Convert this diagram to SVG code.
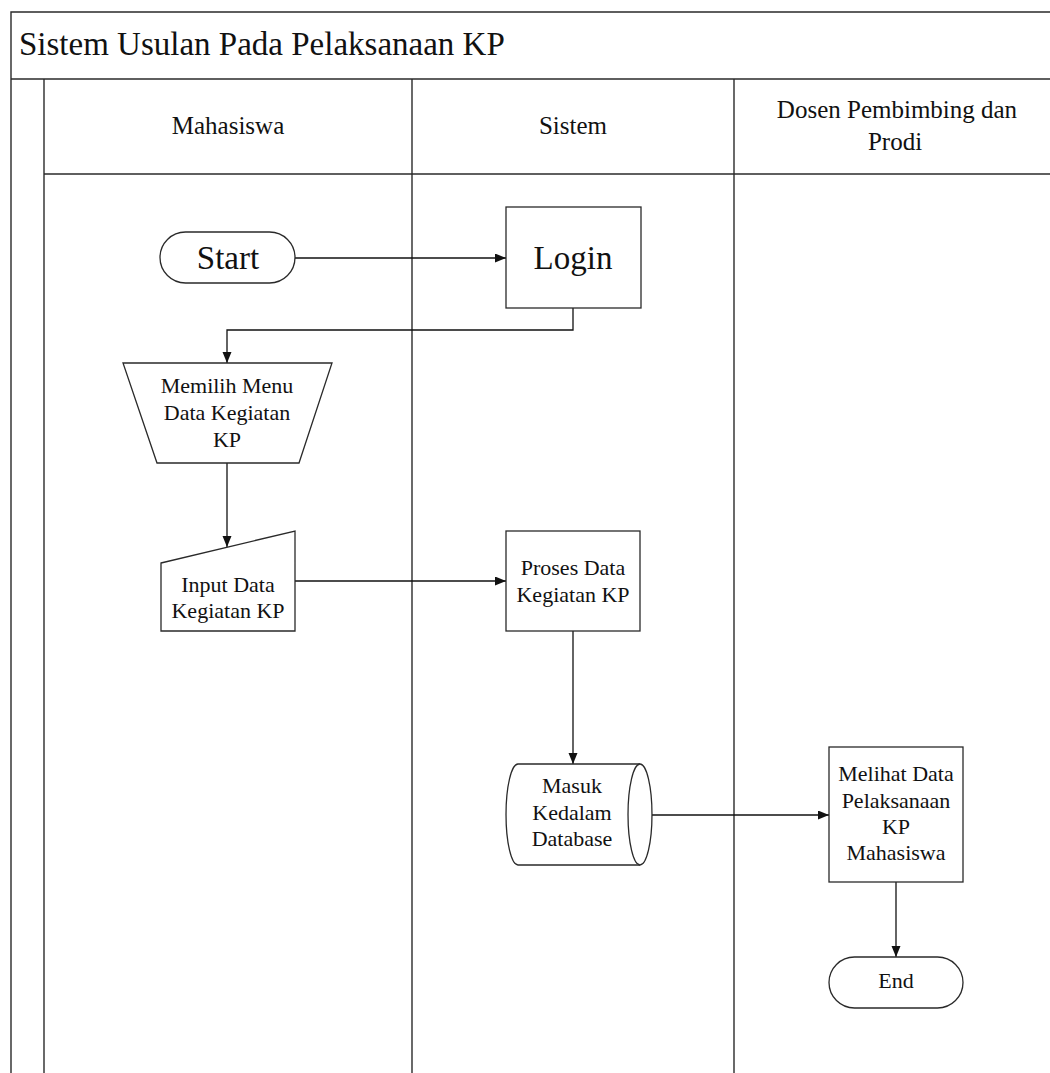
<svg xmlns="http://www.w3.org/2000/svg" width="1050" height="1073" viewBox="0 0 1050 1073">
  <style>
    .frame { fill: none; stroke: #2a2a2a; stroke-width: 1.4; }
    .shape { fill: #ffffff; stroke: #2a2a2a; stroke-width: 1.3; }
    .edge { fill: none; stroke: #111111; stroke-width: 1.3; }
    text { font-family: "Liberation Serif", "Times New Roman", serif; fill: #111111; text-anchor: middle; }
    .title { font-size: 33px; text-anchor: start; }
    .lane { font-size: 25px; }
    .big { font-size: 33px; }
    .lbl { font-size: 22px; }
  </style>
  <defs>
    <marker id="arrow" markerUnits="userSpaceOnUse" markerWidth="12" markerHeight="10" refX="11" refY="4.5" orient="auto">
      <path d="M0,0 L11,4.5 L0,9 Z" fill="#111111"/>
    </marker>
  </defs>

  <rect width="1050" height="1073" fill="#ffffff"/>

  <!-- swimlane frame -->
  <g id="frame">
    <path class="frame" d="M1050,12 H11 V1073"/>
    <path class="frame" d="M11,79 H1050"/>
    <path class="frame" d="M44,79 V1073"/>
    <path class="frame" d="M44,174 H1050"/>
    <path class="frame" d="M412,79 V1073"/>
    <path class="frame" d="M734,79 V1073"/>
    <text class="title" x="19" y="55">Sistem Usulan Pada Pelaksanaan KP</text>
    <text class="lane" x="228" y="134">Mahasiswa</text>
    <text class="lane" x="573" y="134">Sistem</text>
    <text class="lane" x="897" y="118">Dosen Pembimbing dan</text>
    <text class="lane" x="895" y="150">Prodi</text>
  </g>

  <!-- connectors -->
  <g id="connectors">
    <path class="edge" d="M295,258 H506" marker-end="url(#arrow)"/>
    <path class="edge" d="M573,308 V330 H227 V363" marker-end="url(#arrow)"/>
    <path class="edge" d="M227,463 V547" marker-end="url(#arrow)"/>
    <path class="edge" d="M295,581 H506" marker-end="url(#arrow)"/>
    <path class="edge" d="M573,631 V764" marker-end="url(#arrow)"/>
    <path class="edge" d="M652,815 H829" marker-end="url(#arrow)"/>
    <path class="edge" d="M896,882 V957" marker-end="url(#arrow)"/>
  </g>

  <g id="start">
    <rect class="shape" x="160" y="232" width="135" height="51" rx="25.5"/>
    <text class="big" x="228" y="269">Start</text>
  </g>

  <g id="login">
    <rect class="shape" x="506" y="207" width="135" height="101"/>
    <text class="big" x="573" y="269">Login</text>
  </g>

  <g id="pilih-menu">
    <polygon class="shape" points="123,363 332,363 299,463 157,463"/>
    <text class="lbl" x="227" y="393">Memilih Menu</text>
    <text class="lbl" x="227" y="420">Data Kegiatan</text>
    <text class="lbl" x="227" y="447">KP</text>
  </g>

  <g id="input-data">
    <polygon class="shape" points="161,563 295,531 295,631 161,631"/>
    <text class="lbl" x="228" y="592">Input Data</text>
    <text class="lbl" x="228" y="618">Kegiatan KP</text>
  </g>

  <g id="proses-data">
    <rect class="shape" x="506" y="531" width="134" height="100"/>
    <text class="lbl" x="573" y="575">Proses Data</text>
    <text class="lbl" x="573" y="602">Kegiatan KP</text>
  </g>

  <g id="database">
    <path class="shape" d="M518,764 H640 A12,50.5 0 0 1 640,865 H518 A12,50.5 0 0 1 518,764 Z"/>
    <path class="shape" fill="none" d="M640,764 A12,50.5 0 0 0 640,865"/>
    <text class="lbl" x="572" y="793">Masuk</text>
    <text class="lbl" x="572" y="820">Kedalam</text>
    <text class="lbl" x="572" y="846">Database</text>
  </g>

  <g id="melihat-data">
    <rect class="shape" x="829" y="747" width="134" height="135"/>
    <text class="lbl" x="896" y="781">Melihat Data</text>
    <text class="lbl" x="896" y="808">Pelaksanaan</text>
    <text class="lbl" x="896" y="834">KP</text>
    <text class="lbl" x="896" y="860">Mahasiswa</text>
  </g>

  <g id="end">
    <rect class="shape" x="829" y="957" width="134" height="51" rx="25.5"/>
    <text class="lbl" x="896" y="988">End</text>
  </g>
</svg>
